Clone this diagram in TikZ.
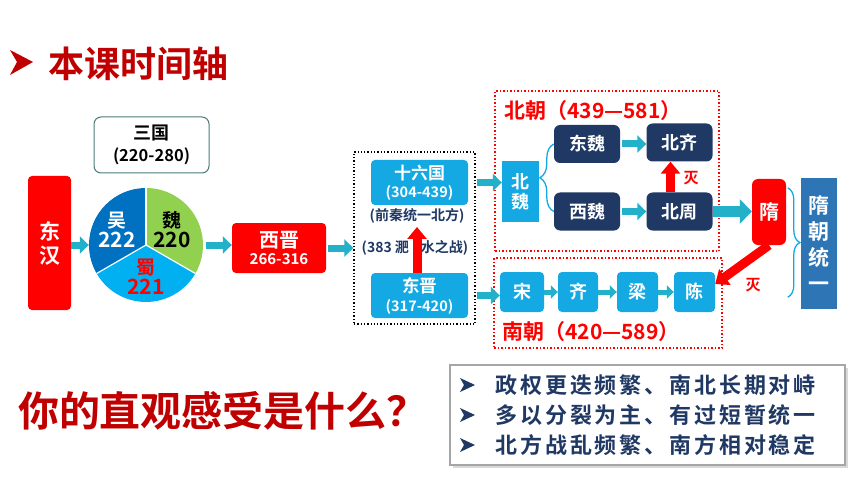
\documentclass[tikz,border=0pt]{standalone}
\usepackage{fontspec}
\setmainfont{Noto Sans CJK SC}[BoldFont={Noto Sans CJK SC Bold}]
\newfontfamily\kaiti{Noto Sans CJK SC Bold}[LetterSpace=13]
\usetikzlibrary{arrows.meta}
\usetikzlibrary{decorations.pathreplacing}
\usetikzlibrary{shadows}
\usepackage{xcolor}
\definecolor{hongse}{HTML}{FF0000}
\definecolor{shenhong}{HTML}{C00000}
\definecolor{lanse}{HTML}{14A9E3}
\definecolor{shenlan}{HTML}{1F3864}
\definecolor{suilan}{HTML}{2E75B6}
\definecolor{qingse}{HTML}{22B1C9}
\definecolor{huilan}{HTML}{4A7A7A}
\definecolor{huise}{HTML}{A6A6A6}
\definecolor{wuse}{HTML}{0070C0}
\definecolor{weise}{HTML}{92D050}
\definecolor{shuse}{HTML}{00B0F0}
\newcommand\zh[2]{\fontsize{#1}{#2}\selectfont}

\begin{document}
\begin{tikzpicture}[x=1pt, y=-1pt,
  box/.style={text=white, align=center, inner sep=0, rounded corners=4pt},
  redbox/.style={box, fill=hongse},
  bluebox/.style={box, fill=lanse},
  navybox/.style={box, fill=shenlan, rounded corners=6pt},
  jiantou/.style={line width=7pt, draw=qingse, -{Triangle[length=9pt,width=17pt]}},
  miejt/.style={line width=9pt, draw=hongse, -{Triangle[length=12pt,width=19pt]}},
  huakuang/.style={draw=hongse, dotted, line width=1.5pt, inner sep=0}]
\useasboundingbox (0,0) rectangle (860,484);

\fill[shenhong] (10,50) -- (33,62) -- (10,75) -- (17,62) -- cycle;
\node[anchor=west, text=shenhong, font=\zh{36}{40}\bfseries] (title) at (45,64) {本课时间轴};

\node[redbox, minimum width=43, minimum height=134, font=\zh{21}{24}\bfseries] (dh) at (49.5,243) {东\\汉};
\node[draw=huilan, line width=1pt, rounded corners=7pt, minimum width=115, minimum height=56, align=center, font=\zh{18}{22}\bfseries] (sg) at (151.5,145) {三国\\{\zh{16.5}{21}(220-280)}};

% pie
\node[circle, minimum size=114, inner sep=0] (pie) at (146,245) {};
\foreach \a/\b/\c in {90/210/wuse, -30/90/weise, 210/330/shuse}
  \fill[\c] (pie.center) -- ++(\a:57pt) arc[start angle=\a, end angle=\b, radius=57pt] -- cycle;
\foreach \a in {90,210,330}
  \draw[white, line width=1.2pt] (pie.center) -- ++(\a:57pt);
\node[text=white, align=center, font=\zh{19}{20}\bfseries] (wu) at (117,230) {吴\\{\zh{21}{20}222}};
\node[text=black, align=center, font=\zh{19}{20}\bfseries] (wei) at (172,230) {魏\\{\zh{21}{20}220}};
\node[text=hongse, align=center, font=\zh{19}{20}\bfseries] (shu) at (146,277) {蜀\\{\zh{21}{20}221}};

\node[redbox, minimum width=94, minimum height=50, font=\zh{20}{17}\bfseries] (xj) at (279,248) {西晋\\{\zh{15}{17}266-316}};

\draw[jiantou] (dh.east |- pie) -- (pie.west);
\draw[jiantou, shorten <=3pt] (pie.east) -- (pie.east -| xj.west);

% east jin and sixteen states
\node[draw, dotted, line width=1.3pt, minimum width=121, minimum height=172, inner sep=0] (dk) at (414.5,238) {};
\draw[jiantou, shorten <=2pt] (xj.east) -- (xj.east -| dk.west);
\node[bluebox, minimum width=97, minimum height=45, font=\zh{17}{18}\bfseries] (sl) at (419.5,182.5) {十六国\\{\zh{14.5}{18}(304-439)}};
\node[bluebox, minimum width=97, minimum height=45, font=\zh{17.5}{19}\bfseries] (dj) at (419.5,295.5) {东晋\\{\zh{14.5}{19}(317-420)}};
\node[text=shenlan, font=\zh{14}{16}\bfseries] (qin) at (417,216) {(前秦统一北方)};
\node[text=shenlan, font=\zh{14}{16}\bfseries] (fs) at (415,248) {(383 淝\hspace{12pt}水之战)};
\draw[miejt] (dj.north -| qin) -- (qin.south);

% north and south
\node[huakuang, minimum width=224, minimum height=160] (bc) at (607,171) {};
\node[text=hongse, font=\zh{21}{22}\bfseries] (bct) at (593,111) {北朝（439—581）};
\node[huakuang, minimum width=228, minimum height=90] (nc) at (608,303) {};
\node[text=hongse, font=\zh{21}{22}\bfseries] (nct) at (591,332) {南朝（420—589）};

\node[bluebox, rounded corners=0pt, minimum width=37, minimum height=61, font=\zh{18}{20}\bfseries] (bw) at (520.5,191.5) {北\\魏};
\foreach \n/\t/\x/\y in {dw/东魏/587/144, bq/北齐/679.5/142.5, xw/西魏/587/211.5, bz/北周/679.5/211.5}
  \node[navybox, minimum width=66, minimum height=38, font=\zh{18}{20}\bfseries] (\n) at (\x,\y) {\t};
\draw[lanse, line width=1.3pt, decorate, decoration={brace, amplitude=14pt}] (xw.west) -- (dw.west);
\draw[jiantou, shorten <=2pt] (dw.east) -- (dw.east -| bq.west);
\draw[jiantou, shorten <=2pt] (xw.east) -- (xw.east -| bz.west);

\foreach \n/\t/\x/\w in {song/宋/522/44, qi/齐/578/40, liang/梁/637.5/41, chen/陈/694.5/41}
  \node[bluebox, minimum width=\w, minimum height=40, font=\zh{18}{20}\bfseries] (\n) at (\x,292) {\t};
\foreach \a/\b in {song/qi, qi/liang, liang/chen}
  \draw[jiantou, line width=5pt, -{Triangle[length=7pt,width=13pt]}] (\a) -- (\b);

\draw[jiantou, shorten <=1pt] (sl.east -| dk.east) -- (sl.east -| bw.west);
\draw[jiantou, shorten <=1pt] (dj.east -| dk.east) -- (dj.east -| song.west);

% sui
\node[redbox, rounded corners=6pt, minimum width=34, minimum height=66, font=\zh{20}{22}\bfseries] (sui) at (769,212) {隋};
\node[box, fill=suilan, rounded corners=0pt, minimum width=36, minimum height=131, font=\zh{21}{26}\bfseries] (syt) at (819,243.5) {隋\\朝\\统\\一};
\draw[lanse, line width=1.3pt, decorate, decoration={brace, amplitude=12pt}] ([xshift=-13pt,yshift=-10pt]syt.north west) -- ([xshift=-13pt,yshift=12pt]syt.south west);
\draw[jiantou, line width=10pt, -{Triangle[length=12pt,width=24pt]}] (bz.east) -- (bz.east -| sui.west);

\draw[miejt] ([xshift=-9pt]bz.north) -- ([xshift=-9pt]bq.south);
\node[text=hongse, font=\zh{15}{16}\bfseries] (mie1) at (691,178) {灭};
\draw[miejt] (sui.south) -- ([yshift=8pt]chen.east);
\node[text=hongse, font=\zh{15}{16}\bfseries] (mie2) at (753,285) {灭};

% question
\node[text=shenhong, font=\zh{41}{44}\bfseries] (wen) at (223,411) {你的直观感受是什么？};
\node[draw=huise, line width=1.5pt, fill=white, minimum width=395, minimum height=100, drop shadow={opacity=.3}] (kuang) at (647.5,415) {};
\foreach \i/\t in {1/政权更迭频繁、南北长期对峙, 2/多以分裂为主、有过短暂统一, 3/北方战乱频繁、南方相对稳定} {
  \fill[shenlan, shift={(467,{355+30*\i})}] (-7,-7) -- (8,0) -- (-7,7) -- (-3,0) -- cycle;
  \node[anchor=west, text=shenlan, font=\zh{22}{24}\kaiti] (h\i) at (492,{355+30*\i}) {\t};
}
\end{tikzpicture}
\end{document}
